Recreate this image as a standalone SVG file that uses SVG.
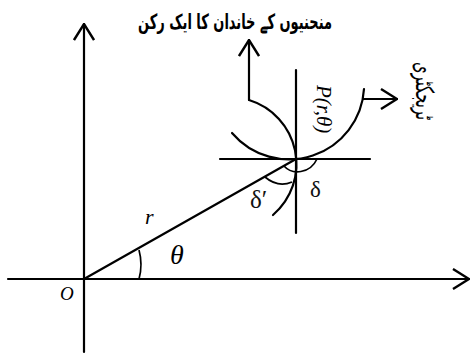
<svg xmlns="http://www.w3.org/2000/svg" width="471" height="362" viewBox="0 0 471 362">
<style>
.ln{stroke:#000;stroke-width:2.2;fill:none;stroke-linecap:round}
.thin{stroke:#000;stroke-width:1.7;fill:none}
.it{font-family:"Liberation Serif",serif;font-style:italic;fill:#000}
.gr{font-family:"Liberation Serif",serif;fill:#111}
.ur{font-family:"DejaVu Sans","Noto Sans",sans-serif;fill:#000}
</style>
<defs>
<marker id="ah" viewBox="0 0 18 22" refX="17" refY="11" markerWidth="18" markerHeight="22" markerUnits="userSpaceOnUse" orient="auto">
<path d="M1,1 L17,11 L1,21" fill="none" stroke="#000" stroke-width="2.4"/>
</marker>
</defs>
<rect width="471" height="362" fill="#fff"/>
<g id="axes">
<line class="ln" x1="84" y1="352" x2="84" y2="24" marker-end="url(#ah)"/>
<line class="ln" x1="8" y1="279" x2="469" y2="279" marker-end="url(#ah)"/>
</g>
<g id="radius">
<line class="ln" x1="84" y1="279" x2="296" y2="159"/>
<path class="thin" d="M139,250 A55,55 0 0 1 139,279"/>
</g>
<g id="point-lines">
<line class="ln" x1="220" y1="159" x2="370" y2="159"/>
<line class="ln" x1="296" y1="70" x2="296" y2="233"/>
</g>
<g id="curve-family">
<path class="ln" d="M249,100 A67,67 0 0 1 273,215"/>
</g>
<g id="trajectory">
<path class="ln" d="M232,133 A75,75 0 0 0 364,89"/>
</g>
<g id="angles">
<path class="thin" d="M284,166 C292,175 310,174 317,159"/>
<path class="thin" d="M265,177 Q278,188 292,182"/>
</g>
<g id="connectors">
<line class="ln" x1="249" y1="100" x2="249" y2="40" marker-end="url(#ah)"/>
<line class="ln" x1="363" y1="99" x2="397" y2="99" marker-end="url(#ah)"/>
</g>
<g id="labels">
<text class="it" x="60" y="300" font-size="19">O</text>
<text class="it" x="145" y="224" font-size="22">r</text>
<text class="it" x="170" y="264" font-size="28">θ</text>
<text class="gr" x="250" y="208" font-size="25">δ′</text>
<text class="gr" x="310" y="197" font-size="23">δ</text>
<text class="it" font-size="21" fill="#444" transform="translate(317,85) rotate(90)">P(r,θ)</text>
<text class="ur" x="235" y="29" font-size="21" font-weight="bold" text-anchor="middle" direction="rtl" textLength="194" lengthAdjust="spacingAndGlyphs">منحنیوں کے خاندان کا ایک رکن</text>
<text class="ur" font-size="25" text-anchor="middle" direction="rtl" transform="translate(416,91) rotate(90)" textLength="58" lengthAdjust="spacingAndGlyphs">ٹریجکٹری</text>
</g>
</svg>
